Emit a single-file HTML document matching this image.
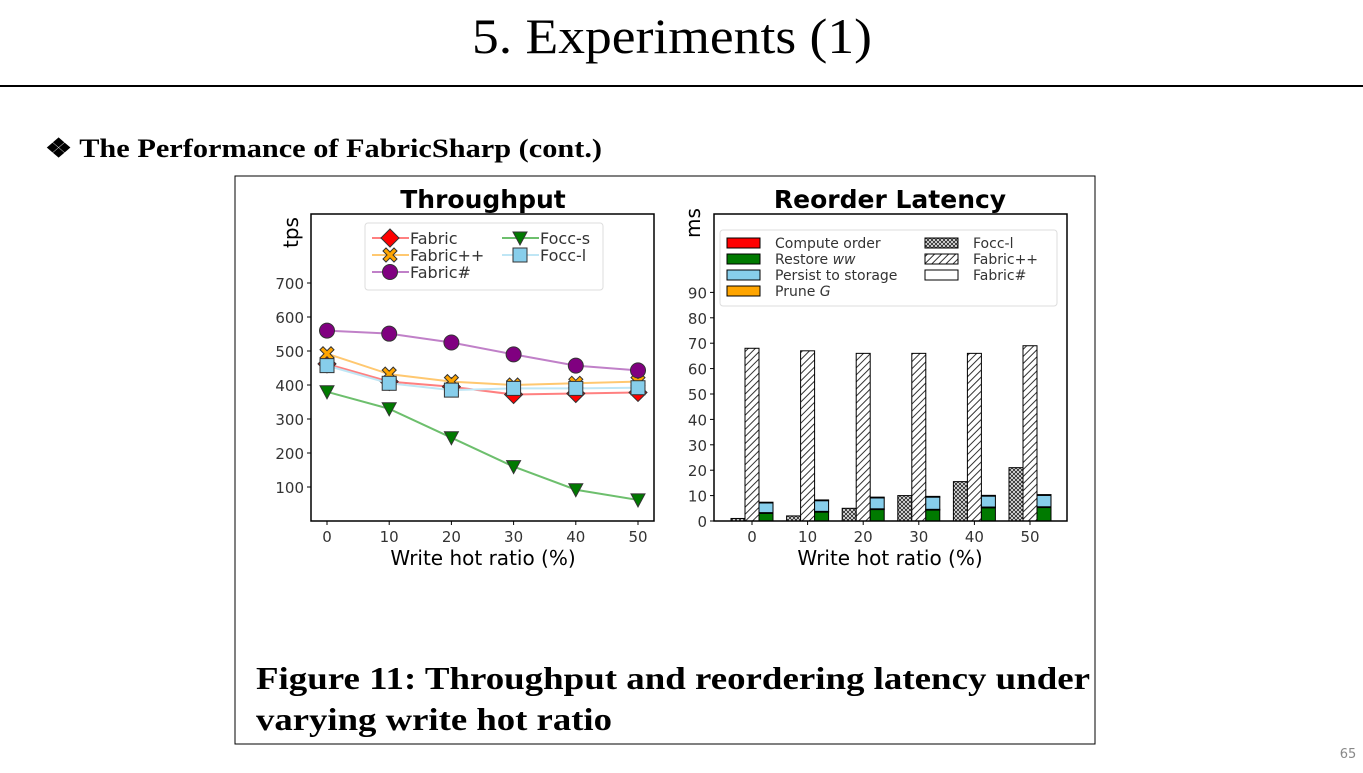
<!DOCTYPE html>
<html><head><meta charset="utf-8"><style>
body{margin:0;width:1363px;height:773px;background:#fff;overflow:hidden;font-family:"DejaVu Sans",sans-serif;}
svg{position:absolute;left:0;top:0}
</style></head><body>
<svg id="s" width="1363" height="773" xmlns="http://www.w3.org/2000/svg" font-family="DejaVu Sans,sans-serif">
<defs>
<pattern id="hatch" width="5" height="5" patternUnits="userSpaceOnUse" patternTransform="rotate(45)"><rect width="5" height="5" fill="#fff"/><line x1="0" y1="0" x2="0" y2="5" stroke="#333" stroke-width="2"/></pattern>
<pattern id="cross" width="4" height="4" patternUnits="userSpaceOnUse"><rect width="4" height="4" fill="#fff"/><path d="M0,0L4,4M4,0L0,4" stroke="#333" stroke-width="1"/></pattern>
</defs>
<text x="472" y="53" font-family="Liberation Serif,serif" font-size="50" textLength="400" lengthAdjust="spacingAndGlyphs">5. Experiments (1)</text>
<line x1="0" y1="86" x2="1363" y2="86" stroke="#000" stroke-width="2"/>
<text x="45" y="157" font-family="Liberation Serif,serif" font-size="26" font-weight="bold" textLength="557" lengthAdjust="spacingAndGlyphs">❖ The Performance of FabricSharp (cont.)</text>
<rect x="235" y="176" width="860" height="568" fill="none" stroke="#000" stroke-width="1"/>
<text font-family="Liberation Serif,serif" font-size="32" font-weight="bold"><tspan x="256" y="689" textLength="834" lengthAdjust="spacingAndGlyphs">Figure 11: Throughput and reordering latency under</tspan><tspan x="256" y="730" textLength="356" lengthAdjust="spacingAndGlyphs">varying write hot ratio</tspan></text>
<text x="1348" y="758" text-anchor="middle" font-size="13" fill="#888">65</text>
<g id="left"></g><g id="right"></g>
</svg>
<script>
// Throughput chart data
const xCats = [0,10,20,30,40,50];
const yTicksL = [100,200,300,400,500,600,700];
const fabric = [462,410,395,372,375,378];
const fabricPP = [492,432,410,400,405,410];
const fabricSharp = [560,551,525,490,457,443];
const foccS = [380,330,245,160,92,62];
const foccL = [457,405,385,390,390,392];
// Latency chart data
const yTicksR = [0,10,20,30,40,50,60,70,80,90];
const foccLLat = [1,2,5,10,15.5,21];
const fabricPPLat = [68,67,66,66,66,69];
const computeOrder = [0.3,0.3,0.3,0.3,0.3,0.3];
const restoreWW = [3,3.5,4.5,4.3,5.2,5.3];
const persist = [3.8,4.2,4.3,4.8,4.3,4.5];
const pruneG = [0.3,0.3,0.3,0.3,0.3,0.3];

const NS="http://www.w3.org/2000/svg";
function mk(parent,tag,attrs,txt){const e=document.createElementNS(NS,tag);for(const k in attrs)e.setAttribute(k,attrs[k]);if(txt!==undefined)e.textContent=txt;parent.appendChild(e);return e;}

// ---- Left chart
const L=document.getElementById('left');
const lx=v=>327+(v/50)*311, ly=v=>521-v*0.34;
mk(L,'text',{x:483,y:208,'text-anchor':'middle','font-size':25,'font-weight':'bold'},'Throughput');
yTicksL.forEach(t=>{mk(L,'line',{x1:307,x2:311,y1:ly(t),y2:ly(t),stroke:'#000'});
 const e=mk(L,'text',{x:304,y:ly(t)+6,'text-anchor':'end','font-size':15,fill:'#333'},t);
 });
xCats.forEach(c=>{mk(L,'line',{x1:lx(c),x2:lx(c),y1:521,y2:525,stroke:'#000'});
 const e=mk(L,'text',{x:lx(c),y:542,'text-anchor':'middle','font-size':15,fill:'#333'},c);
 });
let t1=mk(L,'text',{x:483,y:565,'text-anchor':'middle','font-size':20},'Write hot ratio (%)');
let t2=mk(L,'text',{x:0,y:0,'font-size':20,transform:'translate(298,248) rotate(-90)'},'tps');
function marker(g,type,x,y,fill){
 if(type==='d')mk(g,'path',{d:`M${x},${y-9}L${x+9},${y}L${x},${y+9}L${x-9},${y}Z`,fill,stroke:'#333'});
 else if(type==='x')mk(g,'path',{d:`M${x-7},${y-4}L${x-4},${y-7}L${x},${y-3}L${x+4},${y-7}L${x+7},${y-4}L${x+3},${y}L${x+7},${y+4}L${x+4},${y+7}L${x},${y+3}L${x-4},${y+7}L${x-7},${y+4}L${x-3},${y}Z`,fill,stroke:'#333'});
 else if(type==='o')mk(g,'circle',{cx:x,cy:y,r:7.5,fill,stroke:'#333'});
 else if(type==='v')mk(g,'path',{d:`M${x-7},${y-6}L${x+7},${y-6}L${x},${y+7}Z`,fill,stroke:'#333'});
 else if(type==='s')mk(g,'rect',{x:x-7,y:y-7,width:14,height:14,fill,stroke:'#333'});
}
const series=[
 {name:'focc-s',data:foccS,line:'#6dbf6d',fill:'#007a00',m:'v'},
 {name:'fabric',data:fabric,line:'#ff8080',fill:'#ff0000',m:'d'},
 {name:'fabric-plus-plus',data:fabricPP,line:'#ffc870',fill:'#ffa500',m:'x'},
 {name:'focc-l',data:foccL,line:'#bfe6f5',fill:'#87ceeb',m:'s'},
 {name:'fabric-sharp',data:fabricSharp,line:'#c080c8',fill:'#800080',m:'o'}];
series.forEach(s=>{const g=mk(L,'g',{});
 
 mk(g,'polyline',{points:s.data.map((v,i)=>lx(xCats[i])+','+ly(v)).join(' '),fill:'none',stroke:s.line,'stroke-width':2});
 s.data.forEach((v,i)=>marker(g,s.m,lx(xCats[i]),ly(v),s.fill));});
mk(L,'rect',{x:311,y:214,width:343,height:307,fill:'none',stroke:'#000','stroke-width':1.5});
// legend
const lg=mk(L,'g',{});
mk(lg,'rect',{x:365,y:223,width:238,height:67,fill:'#fff',stroke:'#ddd',rx:3});
[['Fabric','#ff8080','#ff0000','d',372,238],['Fabric++','#ffc870','#ffa500','x',372,255],['Fabric#','#c080c8','#800080','o',372,272],['Focc-s','#6dbf6d','#007a00','v',502,238],['Focc-l','#bfe6f5','#87ceeb','s',502,255]].forEach(r=>{
 mk(lg,'line',{x1:r[4],x2:r[4]+37,y1:r[5],y2:r[5],stroke:r[1],'stroke-width':2});marker(lg,r[3],r[4]+18,r[5],r[2]);
 mk(lg,'text',{x:r[4]+38,y:r[5]+6,'font-size':16,fill:'#333'},r[0]);});

// ---- Right chart
const R=document.getElementById('right');
const rx=c=>752+(c/50)*278, ry=v=>521-v*2.54, bw=14;
mk(R,'text',{x:890,y:208,'text-anchor':'middle','font-size':25,'font-weight':'bold'},'Reorder Latency');
yTicksR.forEach(t=>{mk(R,'line',{x1:710,x2:714,y1:ry(t),y2:ry(t),stroke:'#000'});
 const e=mk(R,'text',{x:707,y:ry(t)+6,'text-anchor':'end','font-size':15,fill:'#333'},t);
 });
xCats.forEach(c=>{mk(R,'line',{x1:rx(c),x2:rx(c),y1:521,y2:525,stroke:'#000'});
 const e=mk(R,'text',{x:rx(c),y:542,'text-anchor':'middle','font-size':15,fill:'#333'},c);
 });
let t3=mk(R,'text',{x:890,y:565,'text-anchor':'middle','font-size':20},'Write hot ratio (%)');
let t4=mk(R,'text',{x:0,y:0,'font-size':20,transform:'translate(700,238) rotate(-90)'},'ms');
xCats.forEach((c,i)=>{const cx=rx(c);
 let b=mk(R,'rect',{x:cx-bw*1.5,y:ry(foccLLat[i]),width:bw,height:ry(0)-ry(foccLLat[i]),fill:'url(#cross)',stroke:'#000'});
 
 b=mk(R,'rect',{x:cx-bw/2,y:ry(fabricPPLat[i]),width:bw,height:ry(0)-ry(fabricPPLat[i]),fill:'url(#hatch)',stroke:'#000'});
 
 let base=0;
 [[restoreWW,'#007a00','restore-ww'],[computeOrder,'#ff0000','compute-order'],[persist,'#87ceeb','persist'],[pruneG,'#ffa500','prune-g']].forEach(st=>{
  const v=st[0][i];const r=mk(R,'rect',{x:cx+bw/2,y:ry(base+v),width:bw,height:ry(base)-ry(base+v),fill:st[1],stroke:'#000','stroke-width':1});
  base+=v;});
});
mk(R,'rect',{x:714,y:214,width:353,height:307,fill:'none',stroke:'#000','stroke-width':1.5});
const lg2=mk(R,'g',{});
mk(lg2,'rect',{x:720,y:230,width:337,height:76,fill:'#fff',stroke:'#ddd',rx:3});
[['Compute order','#ff0000',727,243],['Restore ','#007a00',727,259,'ww'],['Persist to storage','#87ceeb',727,275],['Prune ','#ffa500',727,291,'G'],['Focc-l','url(#cross)',925,243],['Fabric++','url(#hatch)',925,259],['Fabric#','#fff',925,275]].forEach(r=>{
 mk(lg2,'rect',{x:r[2],y:r[3]-5,width:33,height:10,fill:r[1],stroke:'#000'});
 const t=mk(lg2,'text',{x:r[2]+48,y:r[3]+5,'font-size':14,fill:'#333'},r[0]);
 if(r[4])mk(t,'tspan',{'font-style':'italic'},r[4]);});
</script>
</body></html>
